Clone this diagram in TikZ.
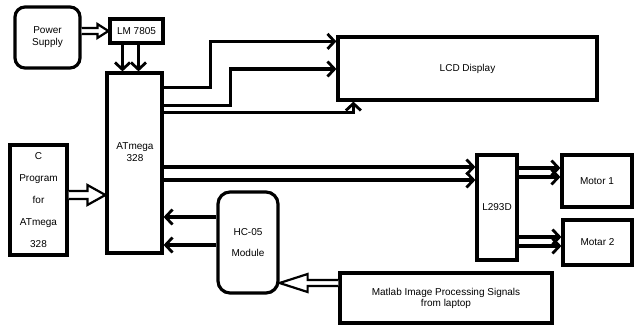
\documentclass[tikz,border=0pt]{standalone}
\usepackage{fontspec}
\setmainfont{Liberation Sans}
\usetikzlibrary{arrows.meta,calc}
\begin{document}
\begin{tikzpicture}[x=1pt,y=-1pt,
  box/.style={draw, line width=3.2pt, inner sep=0pt, align=center, font=\fontsize{10}{12}\selectfont},
  rbox/.style={box, rounded corners=10pt},
  arr/.style={line width=3.2pt, -{Straight Barb[length=7pt,width=15pt,line width=2.8pt]}},
  hol/.style={line width=2.2pt, line join=miter, fill=white},
  lbl/.style={font=\fontsize{10}{12}\selectfont, align=center, inner sep=0pt}]
\useasboundingbox[fill=white] (0,0) rectangle (634,327);

% blocks
\node[rbox, minimum width=65pt, minimum height=61pt] (ps) at (47.5,37.5) {Power\\Supply};
\node[box, minimum width=53pt, minimum height=24pt] (lm) at (136.5,31) {LM 7805};
\node[box, minimum width=55pt, minimum height=180pt] (at) at (134.5,163) {};
\node[lbl] (atl) at (135,152) {ATmega\\328};
\node[box, minimum width=57pt, minimum height=110pt, font=\fontsize{10}{22}\selectfont] (cp) at (38.5,200) {C\\Program\\for\\ATmega\\328};
\node[box, minimum width=259pt, minimum height=63pt] (lcd) at (467.5,68.5) {LCD Display};
\node[box, minimum width=40pt, minimum height=105pt] (l293) at (497,207.5) {L293D};
\node[box, minimum width=70pt, minimum height=52pt] (m1) at (597,181) {Motor 1};
\node[box, minimum width=69pt, minimum height=45pt] (m2) at (597.5,242.5) {Motar 2};
\node[rbox, rounded corners=12pt, minimum width=60pt, minimum height=101pt, font=\fontsize{10}{21}\selectfont] (hc) at (248,242.5) {HC-05\\Module};
\node[box, minimum width=212pt, minimum height=50pt, font=\fontsize{10}{11}\selectfont] (ml) at (446,298) {Matlab Image Processing Signals\\from laptop};

% hollow arrow: power supply -> LM 7805
\coordinate (e1) at (ps.east |- lm.west);
\draw[hol] ($(e1)+(0,-3)$) -- ($(lm.west)+(-11,-3)$) -- ($(lm.west)+(-11,-7)$) -- (lm.west)
  -- ($(lm.west)+(-11,7)$) -- ($(lm.west)+(-11,3)$) -- ($(e1)+(0,3)$);

% LM 7805 -> ATmega
\coordinate (d1) at ($(lm.south)+(-14,0)$);
\coordinate (d2) at ($(lm.south)+(2,0)$);
\draw[arr] (d1) -- (d1 |- at.north);
\draw[arr] (d2) -- (d2 |- at.north);

% hollow arrow: C program -> ATmega
\coordinate (s2) at ($(cp.east)+(0,-5)$);
\coordinate (t2) at (s2 -| at.west);
\draw[hol] ($(s2)+(0,-4)$) -- ($(t2)+(-18,-4)$) -- ($(t2)+(-18,-10)$) -- (t2)
  -- ($(t2)+(-18,10)$) -- ($(t2)+(-18,4)$) -- ($(s2)+(0,4)$);

% ATmega -> LCD
\coordinate (a1) at ($(at.north east)+(0,16)$);
\coordinate (a2) at ($(at.north east)+(0,34)$);
\coordinate (a3) at ($(at.north east)+(0,41)$);
\draw[arr] (a1) -- ++(47,0) |- ($(lcd.north west)+(0,6)$);
\draw[arr] (a2) -- ++(67,0) |- ($(lcd.west)+(0,0.5)$);
\draw[arr] (a3) -| ($(lcd.south west)+(17,0)$);

% ATmega -> L293D
\coordinate (b1) at ($(at.east)+(0,4)$);
\coordinate (b2) at ($(at.east)+(0,17)$);
\draw[arr] (b1) -- (b1 -| l293.west);
\draw[arr] (b2) -- (b2 -| l293.west);

% L293D -> motors
\coordinate (c1) at ($(m1.west)+(0,-13)$);
\coordinate (c2) at ($(m1.west)+(0,-4)$);
\coordinate (c3) at ($(m2.west)+(0,-5.5)$);
\coordinate (c4) at ($(m2.west)+(0,3.5)$);
\draw[arr] (c1 -| l293.east) -- (c1);
\draw[arr] (c2 -| l293.east) -- (c2);
\draw[arr] (c3 -| l293.east) -- (c3);
\draw[arr] (c4 -| l293.east) -- (c4);

% HC-05 -> ATmega
\coordinate (h1) at ($(hc.west)+(0,-25.5)$);
\coordinate (h2) at ($(hc.west)+(0,2.5)$);
\draw[arr] (h1) -- (h1 -| at.east);
\draw[arr] (h2) -- (h2 -| at.east);

% hollow arrow: Matlab -> HC-05
\coordinate (s3) at ($(ml.west)+(0,-15)$);
\coordinate (t3) at (s3 -| hc.east);
\draw[hol] ($(s3)+(0,-3)$) -- ($(t3)+(28,-3)$) -- ($(t3)+(28,-9)$) -- (t3)
  -- ($(t3)+(28,9)$) -- ($(t3)+(28,3)$) -- ($(s3)+(0,3)$);
\end{tikzpicture}
\end{document}
